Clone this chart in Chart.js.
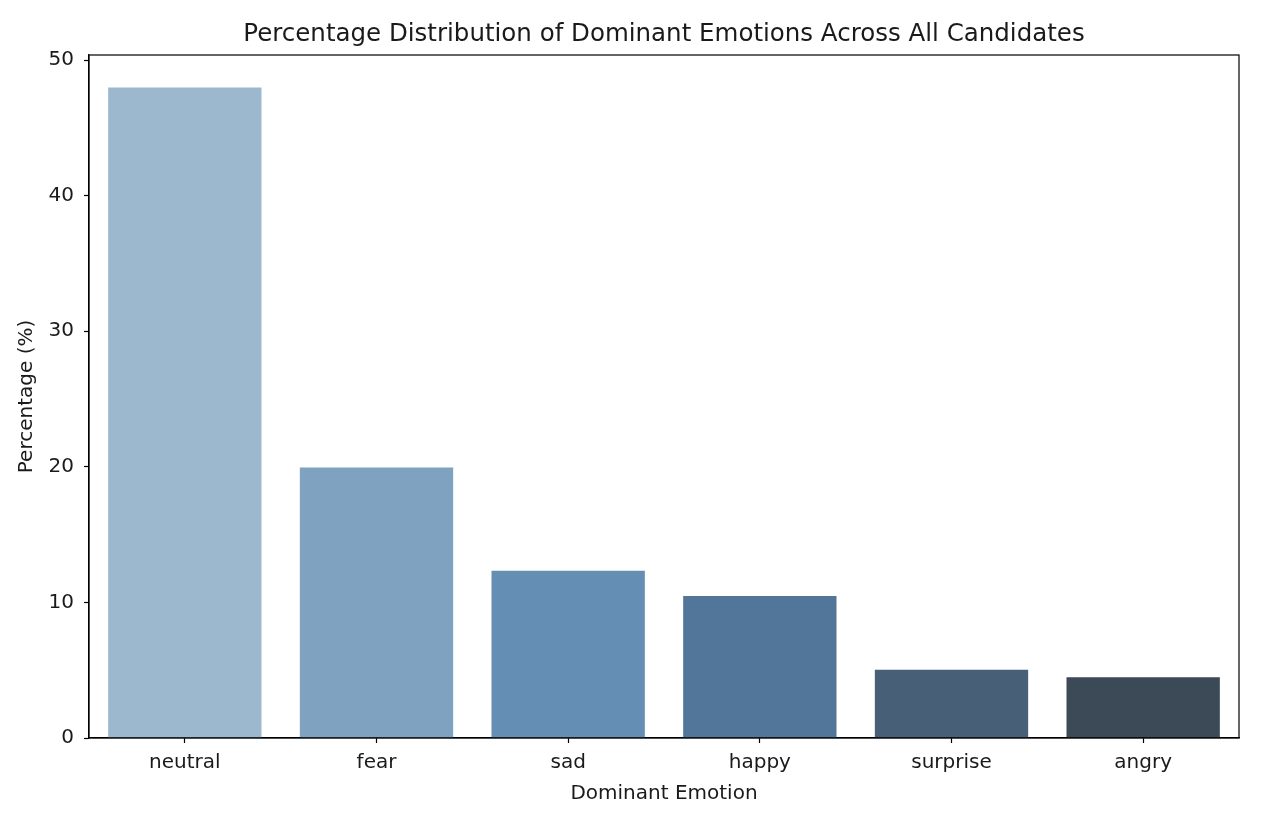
<!DOCTYPE html>
<html>
<head>
<meta charset="utf-8">
<script src="https://cdn.jsdelivr.net/npm/chart.js@4.4.1/dist/chart.umd.min.js"></script>
<style>
html,body{margin:0;padding:0;background:#fff;}
#wrap{width:1288px;height:832px;position:relative;}
</style>
</head>
<body>
<div id="wrap"><canvas id="c" width="1288" height="832"></canvas></div>
<script>
const categories = ["neutral", "fear", "sad", "happy", "surprise", "angry"];
const percentages = [47.98, 19.95, 12.33, 10.48, 5.04, 4.48];
const barColors = ["#9cb8cf", "#7fa2c0", "#648eb4", "#527699", "#476078", "#3c4956"];
const yTicks = [0, 10, 20, 30, 40, 50];

const titleText = "Percentage Distribution of Dominant Emotions Across All Candidates";
const xTitle = "Dominant Emotion";
const yTitle = "Percentage (%)";

const FONT = "'DejaVu Sans', sans-serif";
const TXT = "#1a1a1a";

const frame = {
  id: 'frame',
  afterDatasetsDraw(chart) {
    const {ctx, chartArea: a} = chart;
    ctx.save();
    ctx.strokeStyle = '#000';
    ctx.lineWidth = 1.2;
    ctx.strokeRect(a.left, a.top, a.right - a.left, a.bottom - a.top);
    ctx.restore();
  },
  afterDraw(chart) {
    const {ctx, chartArea: a} = chart;
    ctx.save();
    ctx.fillStyle = TXT;
    ctx.font = "24.5px " + FONT;
    ctx.textAlign = 'center';
    ctx.textBaseline = 'middle';
    ctx.fillText(titleText, (a.left + a.right) / 2, a.top - 20);
    ctx.restore();
  }
};

const yMax = Math.max(...percentages) * 1.05;

new Chart(document.getElementById('c'), {
  type: 'bar',
  data: {
    labels: categories,
    datasets: [{
      data: percentages,
      backgroundColor: barColors,
      borderWidth: 0,
      categoryPercentage: 1.0,
      barPercentage: 0.8
    }]
  },
  options: {
    responsive: false,
    animation: false,
    devicePixelRatio: 1,
    layout: { padding: { left: 0, right: 49, top: 55, bottom: 0 } },
    plugins: {
      legend: { display: false },
      tooltip: { enabled: false },
      title: { display: false }
    },
    scales: {
      x: {
        type: 'category',
        offset: true,
        grid: { display: true, offset: false, drawOnChartArea: false, drawTicks: true, tickLength: 5, tickColor: '#000', tickWidth: 1.2 },
        border: { display: true, color: '#000', width: 1.2 },
        ticks: { color: TXT, font: { family: FONT, size: 20 }, padding: 8, maxRotation: 0 },
        title: { display: true, text: xTitle, color: TXT, font: { family: FONT, size: 20 }, padding: { top: 3, bottom: 26 } },
        afterFit(s) { s.height = 94; s.paddingLeft = 0; s.paddingRight = 0; }
      },
      y: {
        type: 'linear',
        min: 0,
        max: yMax,
        grid: { display: true, drawOnChartArea: false, drawTicks: true, tickLength: 5, tickColor: '#000', tickWidth: 1.2 },
        border: { display: true, color: '#000', width: 1.2 },
        afterBuildTicks(s) { s.ticks = yTicks.map(v => ({ value: v })); },
        ticks: { color: TXT, font: { family: FONT, size: 20 }, padding: 10, stepSize: 10, includeBounds: false },
        title: { display: true, text: yTitle, color: TXT, font: { family: FONT, size: 20 }, padding: { top: 15, bottom: 0 } },
        afterFit(s) { s.width = 89; s.paddingTop = 0; s.paddingBottom = 0; }
      }
    }
  },
  plugins: [frame]
});
</script>
</body>
</html>
